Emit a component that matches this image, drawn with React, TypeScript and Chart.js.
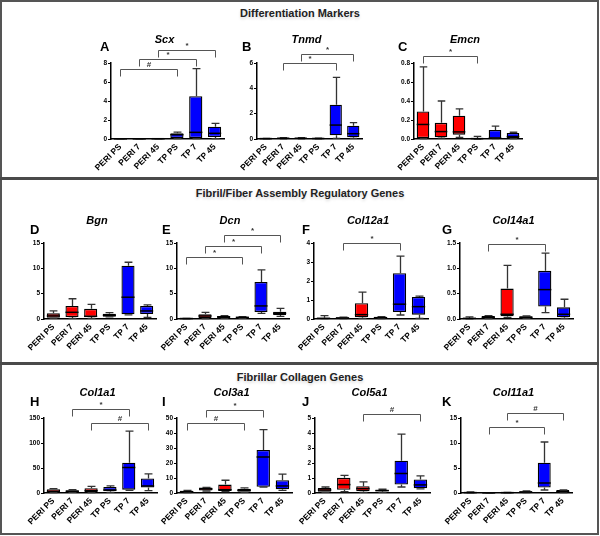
import React, { useEffect, useRef } from 'react';
import { Chart, registerables } from 'chart.js';

Chart.register(...registerables);

const FONT = '"Liberation Sans", Arial, sans-serif';

const categories = ['PERI PS', 'PERI 7', 'PERI 45', 'TP PS', 'TP 7', 'TP 45'];
const groupColors = ['#ff0000', '#ff0000', '#ff0000', '#0000ff', '#0000ff', '#0000ff'];

// each row: [min, q1, median, q3, max]
const scx = [[0.01, 0.015, 0.02, 0.025, 0.03], [0.01, 0.015, 0.02, 0.03, 0.04], [0.01, 0.02, 0.03, 0.04, 0.05], [0.05, 0.1, 0.45, 0.6, 0.72], [0.05, 0.1, 0.7, 4.5, 7.4], [0.05, 0.2, 0.6, 1.3, 1.65]];
const tnmd = [[0.01, 0.02, 0.03, 0.04, 0.05], [0.02, 0.04, 0.06, 0.08, 0.1], [0.02, 0.04, 0.06, 0.08, 0.1], [0.01, 0.02, 0.04, 0.05, 0.06], [0.05, 0.3, 1.1, 2.7, 4.87], [0.05, 0.13, 0.42, 1.05, 1.3]];
const emcn = [[0.005, 0.01, 0.153, 0.29, 0.76], [0.01, 0.018, 0.078, 0.17, 0.4], [0.018, 0.046, 0.075, 0.245, 0.317], [0, 0.002, 0.004, 0.007, 0.028], [0.003, 0.005, 0.01, 0.096, 0.135], [0.005, 0.01, 0.025, 0.064, 0.071]];
const bgn = [[0.13, 0.26, 0.6, 1.12, 1.59], [0.13, 0.4, 1.32, 2.58, 4.0], [0.13, 0.4, 0.53, 2.0, 2.9], [0.4, 0.46, 0.73, 1.06, 1.26], [0.8, 0.93, 4.3, 10.5, 11.2], [0.33, 1.0, 1.59, 2.58, 2.78]];
const dcn = [[0.05, 0.07, 0.09, 0.11, 0.13], [0.07, 0.2, 0.6, 0.93, 1.32], [0.13, 0.2, 0.4, 0.6, 0.66], [0.13, 0.2, 0.33, 0.4, 0.46], [1.12, 1.39, 2.58, 7.3, 9.7], [0.53, 0.8, 1.12, 1.45, 2.1]];
const col12a1 = [[0.02, 0.02, 0.035, 0.07, 0.18], [0.02, 0.035, 0.05, 0.09, 0.1], [0.035, 0.09, 0.23, 0.83, 1.41], [0.02, 0.035, 0.07, 0.1, 0.12], [0.21, 0.37, 0.78, 2.41, 3.31], [0.035, 0.23, 0.65, 1.16, 1.2]];
const col14a1 = [[0.003, 0.007, 0.013, 0.02, 0.04], [0.007, 0.013, 0.033, 0.06, 0.066], [0.033, 0.053, 0.093, 0.6, 1.06], [0.013, 0.02, 0.033, 0.053, 0.06], [0.126, 0.245, 0.58, 0.95, 1.3], [0.013, 0.033, 0.093, 0.23, 0.39]];
const col1a1 = [[0.7, 1.3, 3.4, 7.4, 8.7], [1.3, 2, 3.4, 5.4, 6.7], [0.7, 2, 4.7, 9.4, 13.4], [1.3, 3.4, 6, 12.1, 14.1], [5.4, 6.7, 51, 60.5, 123.7], [4.7, 10.8, 14.1, 28.9, 38.3]];
const col3a1 = [[0.2, 0.45, 0.9, 1.35, 1.8], [1.35, 1.6, 2.7, 3.6, 3.8], [0.9, 1.35, 2.2, 5.6, 8.5], [0.45, 0.9, 1.8, 2.9, 3.4], [4.0, 4.2, 24, 28.7, 42.2], [1.8, 2.5, 4.7, 8.5, 12.6]];
const col5a1 = [[0.045, 0.09, 0.2, 0.34, 0.4], [0.09, 0.22, 0.56, 1.01, 1.17], [0.045, 0.11, 0.29, 0.45, 0.74], [0.045, 0.11, 0.16, 0.22, 0.25], [0.4, 0.56, 1.3, 2.15, 3.92], [0.27, 0.31, 0.54, 0.9, 1.14]];
const col11a1 = [[0.03, 0.05, 0.08, 0.13, 0.2], [0.02, 0.025, 0.03, 0.035, 0.04], [0.03, 0.05, 0.07, 0.1, 0.13], [0.07, 0.13, 0.2, 0.34, 0.4], [0.6, 1.08, 2.0, 6.05, 10.2], [0.07, 0.13, 0.27, 0.6, 0.6]];

// significance brackets: [fromIndex, toIndex, height, symbol]
const scxSig = [[0, 3, 7.4, '#'], [1, 4, 8.4, '*'], [2, 5, 9.4, '*']];
const tnmdSig = [[1, 4, 6.0, '*'], [2, 5, 6.7, '*']];
const emcnSig = [[0, 3, 0.87, '*']];
const bgnSig: any[] = [];
const dcnSig = [[0, 3, 12.2, '*'], [1, 4, 14.4, '*'], [2, 5, 16.5, '*']];
const col12a1Sig = [[1, 4, 4.0, '*']];
const col14a1Sig = [[1, 4, 1.49, '*']];
const col1a1Sig = [[1, 4, 168, '*'], [2, 5, 141, '#']];
const col3a1Sig = [[0, 3, 46.6, '#'], [1, 4, 55.2, '*']];
const col5a1Sig = [[2, 5, 5.27, '#']];
const col11a1Sig = [[1, 4, 13.2, '*'], [2, 5, 16.0, '#']];

const genes = ['Scx', 'Tnmd', 'Emcn', 'Bgn', 'Dcn', 'Col12a1', 'Col14a1', 'Col1a1', 'Col3a1', 'Col5a1', 'Col11a1'];
const letters = ['A', 'B', 'C', 'D', 'E', 'F', 'G', 'H', 'I', 'J', 'K'];
const boxSets = [scx, tnmd, emcn, bgn, dcn, col12a1, col14a1, col1a1, col3a1, col5a1, col11a1];
const sigSets = [scxSig, tnmdSig, emcnSig, bgnSig, dcnSig, col12a1Sig, col14a1Sig, col1a1Sig, col3a1Sig, col5a1Sig, col11a1Sig];
const yMaxes = [8, 6, 0.8, 15, 15, 4, 1.5, 150, 50, 5, 15];
const ySteps = [2, 2, 0.2, 5, 5, 1, 0.5, 50, 10, 1, 5];
const yDecimals = [0, 0, 1, 0, 0, 0, 1, 0, 0, 0, 0];

const sectionTitles = ['Differentiation Markers', 'Fibril/Fiber Assembly Regulatory Genes', 'Fibrillar Collagen Genes'];

// layout: plot area [left, top, right, bottom], letter offset, letter dy, gene dy
const areas = [
  [111, 63, 224, 139], [257, 63, 362, 139], [414, 63, 522, 139],
  [44, 243, 156, 319], [177, 243, 289, 319], [314, 243, 428, 319], [460, 243, 573, 319],
  [44, 418, 157, 493], [177, 418, 292, 493], [315, 418, 430, 493], [461, 418, 572, 493],
];
const letterOffsets = [11, 15, 16, 14, 15, 12, 18, 14, 15, 13, 19];
const letterDy = [-16, -16, -16, -13, -13, -13, -13, -16, -16, -16, -16];
const geneDy = [-23, -23, -23, -22, -22, -22, -22, -25, -25, -25, -25];
const sectionTitleY = [13, 193, 377];

const PAD_L = 34;
const PAD_T = 40;
const PAD_R = 8;
const PAD_B = 42;

function Panel({ idx }: { idx: number }) {
  const ref = useRef<HTMLCanvasElement>(null);
  const [L, T, R, B] = areas[idx];
  const w = R - L + PAD_L + PAD_R;
  const h = B - T + PAD_T + PAD_B;

  useEffect(() => {
    if (!ref.current) return;
    const boxes = boxSets[idx];
    const sigs = sigSets[idx];

    const boxPlugin = {
      id: 'boxWhisker' + idx,
      afterDatasetsDraw(chart: any) {
        const ctx = chart.ctx;
        const ys = chart.scales.y;
        const meta = chart.getDatasetMeta(0);
        ctx.save();
        meta.data.forEach((el: any, i: number) => {
          const [mn, q1, md, q3, mx] = boxes[i];
          const x = Math.round(el.x) + 0.5;
          const bw = el.width;
          const cap = bw * 0.3;
          const pMin = ys.getPixelForValue(mn);
          const pQ1 = ys.getPixelForValue(q1);
          const pMd = ys.getPixelForValue(md);
          const pQ3 = ys.getPixelForValue(q3);
          const pMax = ys.getPixelForValue(mx);
          ctx.strokeStyle = '#333';
          ctx.lineWidth = 1.3;
          ctx.beginPath();
          ctx.moveTo(x, pQ3);
          ctx.lineTo(x, pMax);
          ctx.moveTo(x - cap, pMax);
          ctx.lineTo(x + cap, pMax);
          ctx.moveTo(x, pQ1);
          ctx.lineTo(x, pMin);
          ctx.moveTo(x - cap, pMin);
          ctx.lineTo(x + cap, pMin);
          ctx.stroke();
          ctx.strokeStyle = '#000';
          ctx.lineWidth = 1.5;
          ctx.beginPath();
          ctx.moveTo(el.x - bw / 2, pMd);
          ctx.lineTo(el.x + bw / 2, pMd);
          ctx.stroke();
        });
        ctx.restore();
      },
    };

    const decorPlugin = {
      id: 'decor' + idx,
      afterDraw(chart: any) {
        const ctx = chart.ctx;
        const { left, right, top } = chart.chartArea;
        const xs = chart.scales.x;
        const ys = chart.scales.y;
        ctx.save();
        ctx.fillStyle = '#000';
        ctx.textBaseline = 'middle';
        ctx.textAlign = 'left';
        ctx.font = `bold 13px ${FONT}`;
        ctx.fillText(letters[idx], left - letterOffsets[idx], top + letterDy[idx]);
        ctx.textAlign = 'center';
        ctx.font = `italic bold 11px ${FONT}`;
        ctx.fillText(genes[idx], (left + right) / 2 - 3, top + geneDy[idx]);
        sigs.forEach((s: any) => {
          const [a, b, v, sym] = s;
          const xa = Math.round(xs.getPixelForValue(a)) + 0.5;
          const xb = Math.round(xs.getPixelForValue(b)) + 0.5;
          const py = Math.round(ys.getPixelForValue(v)) + 0.5;
          ctx.strokeStyle = '#555';
          ctx.lineWidth = 1;
          ctx.beginPath();
          ctx.moveTo(xa, py + 7);
          ctx.lineTo(xa, py);
          ctx.lineTo(xb, py);
          ctx.lineTo(xb, py + 7);
          ctx.stroke();
          ctx.fillStyle = '#333';
          ctx.font = `bold 8px ${FONT}`;
          ctx.textBaseline = 'bottom';
          ctx.fillText(sym, (xa + xb) / 2, py - 1);
        });
        ctx.restore();
      },
    };

    const chart = new Chart(ref.current, {
      type: 'bar',
      data: {
        labels: categories,
        datasets: [
          {
            data: boxes.map((b) => [b[1], b[3]]) as any,
            backgroundColor: groupColors,
            borderColor: '#000',
            borderWidth: 1.3,
            borderSkipped: false,
            barPercentage: 0.7,
            categoryPercentage: 1,
          },
        ],
      },
      options: {
        responsive: false,
        maintainAspectRatio: false,
        animation: false,
        devicePixelRatio: 1,
        events: [],
        layout: { padding: { top: PAD_T, left: PAD_L - 30, right: PAD_R, bottom: 0 } },
        plugins: {
          legend: { display: false },
          tooltip: { enabled: false },
          title: { display: false },
        },
        scales: {
          x: {
            type: 'category',
            offset: true,
            grid: { display: false, drawTicks: false },
            border: { display: true, color: '#000', width: 1.5 },
            ticks: {
              autoSkip: false,
              minRotation: 45,
              maxRotation: 45,
              color: '#000',
              padding: 3,
              font: { family: FONT, size: 8.5, weight: 'bold' },
            },
            afterFit: (s: any) => {
              s.height = PAD_B;
              s.paddingLeft = 0;
              s.paddingRight = 0;
            },
          },
          y: {
            min: 0,
            max: yMaxes[idx],
            grid: { display: true, drawOnChartArea: false, drawTicks: true, tickLength: 3, color: '#000', lineWidth: 1 },
            border: { display: true, color: '#000', width: 1.5 },
            ticks: {
              stepSize: ySteps[idx],
              color: '#000',
              padding: 1,
              font: { family: FONT, size: 6.5, weight: 'bold' },
              callback: (v: any) => Number(v).toFixed(yDecimals[idx]),
            },
            afterFit: (s: any) => {
              s.width = 30;
            },
          },
        },
      } as any,
      plugins: [boxPlugin, decorPlugin],
    });
    return () => chart.destroy();
  }, [idx]);

  return (
    <canvas
      ref={ref}
      width={w}
      height={h}
      style={{ position: 'absolute', left: L - PAD_L, top: T - PAD_T, width: w, height: h }}
    />
  );
}

export default function App() {
  return (
    <div
      style={{
        position: 'fixed',
        left: 0,
        top: 0,
        width: 600,
        height: 536,
        background: '#fff',
        overflow: 'hidden',
        fontFamily: FONT,
      }}
    >
      <div
        style={{
          position: 'absolute',
          left: 0,
          top: 0,
          width: 599,
          height: 535,
          boxSizing: 'border-box',
          border: '2px solid #555',
        }}
      />
      <div style={{ position: 'absolute', left: 0, top: 177, width: 599, height: 3, background: '#4a4a4a' }} />
      <div style={{ position: 'absolute', left: 0, top: 362, width: 599, height: 3, background: '#4a4a4a' }} />
      {sectionTitles.map((t, i) => (
        <div
          key={t}
          style={{
            position: 'absolute',
            left: 0,
            width: 600,
            top: sectionTitleY[i] - 8,
            height: 16,
            lineHeight: '16px',
            textAlign: 'center',
            fontSize: 11,
            fontWeight: 'bold',
            color: '#222',
            textShadow: '0 2px 3px rgba(0,0,0,0.15)',
          }}
        >
          {t}
        </div>
      ))}
      {areas.map((_, i) => (
        <Panel key={i} idx={i} />
      ))}
    </div>
  );
}
